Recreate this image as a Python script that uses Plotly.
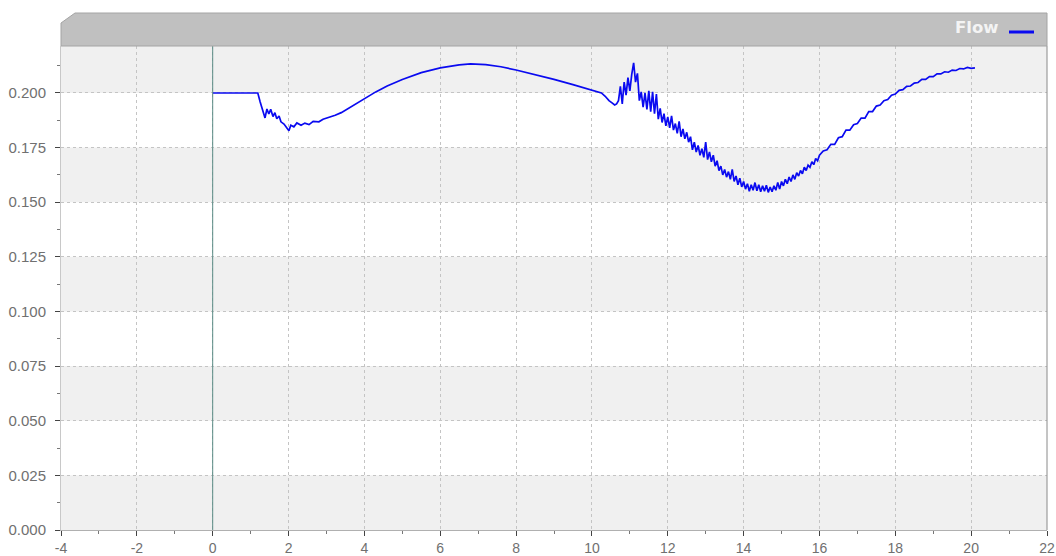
import plotly.graph_objects as go

# ---------------- data ----------------
time_a = [0.0, 1.19, 1.25, 1.32, 1.38, 1.43, 1.48, 1.53, 1.59, 1.64, 1.69, 1.75, 1.80, 1.88,
          1.96, 2.01, 2.06, 2.14, 2.22, 2.33, 2.43, 2.54, 2.65, 2.80, 2.91, 3.07, 3.23, 3.39]
flow_a = [0.2000, 0.2000, 0.1960, 0.1918, 0.1886, 0.1927, 0.1904, 0.1925, 0.1892, 0.1910, 0.1882,
          0.1895, 0.1868, 0.1858, 0.1836, 0.1827, 0.1852, 0.1845, 0.1863, 0.1852, 0.1862, 0.1855,
          0.1870, 0.1868, 0.1880, 0.1888, 0.1898, 0.1910]

time_b = [3.7, 4.0, 4.3, 4.6, 5.0, 5.5, 6.0, 6.5, 6.8, 7.2, 7.6, 8.0, 8.5, 9.0, 9.5, 10.0, 10.25,
          10.35, 10.45, 10.53]
flow_b = [0.1942, 0.1975, 0.2005, 0.2032, 0.2062, 0.2093, 0.2115, 0.2129, 0.2133, 0.2130, 0.2120,
          0.2105, 0.2085, 0.2062, 0.2038, 0.2013, 0.2000, 0.1985, 0.1965, 0.1955]

time_c = [10.60, 10.65, 10.70, 10.75, 10.80, 10.85, 10.90, 10.95, 11.00, 11.05, 11.10, 11.15,
          11.20, 11.25, 11.30, 11.35, 11.40, 11.45, 11.50, 11.55, 11.60, 11.65, 11.70, 11.75,
          11.80, 11.85, 11.90, 11.95, 12.00, 12.05, 12.10, 12.15, 12.20, 12.25, 12.30, 12.35,
          12.40, 12.45, 12.50, 12.55, 12.60, 12.65, 12.70, 12.75, 12.80, 12.85, 12.90, 12.95,
          13.00, 13.05, 13.10, 13.15, 13.20, 13.25, 13.30, 13.35, 13.40, 13.45, 13.50, 13.55,
          13.60, 13.65, 13.70, 13.75, 13.80, 13.85, 13.90, 13.95, 14.00, 14.05, 14.10, 14.15,
          14.20, 14.25, 14.30, 14.35, 14.40, 14.45, 14.50, 14.55, 14.60, 14.65, 14.70, 14.75,
          14.80, 14.85, 14.90, 14.95, 15.00, 15.05, 15.10, 15.15, 15.20, 15.25, 15.30, 15.35,
          15.40, 15.45, 15.50, 15.55, 15.60, 15.65, 15.70, 15.75, 15.80, 15.85, 15.90, 15.95,
          16.00]
flow_c = [0.1945, 0.1950, 0.1965, 0.2030, 0.1950, 0.2050, 0.1990, 0.2070, 0.2010, 0.2085,
          0.2138, 0.2050, 0.2090, 0.1965, 0.2005, 0.1935, 0.2000, 0.1925, 0.2010, 0.1915,
          0.2005, 0.1905, 0.1995, 0.1880, 0.1930, 0.1865, 0.1905, 0.1850, 0.1890, 0.1840,
          0.1895, 0.1830, 0.1860, 0.1815, 0.1870, 0.1800, 0.1835, 0.1790, 0.1820, 0.1775,
          0.1800, 0.1740, 0.1775, 0.1730, 0.1760, 0.1715, 0.1745, 0.1705, 0.1775, 0.1695,
          0.1730, 0.1685, 0.1715, 0.1665, 0.1690, 0.1645, 0.1665, 0.1625, 0.1650, 0.1615,
          0.1640, 0.1605, 0.1650, 0.1595, 0.1620, 0.1580, 0.1610, 0.1570, 0.1595, 0.1560,
          0.1585, 0.1550, 0.1580, 0.1555, 0.1590, 0.1552, 0.1580, 0.1548, 0.1575, 0.1550,
          0.1578, 0.1545, 0.1570, 0.1548, 0.1575, 0.1555, 0.1590, 0.1560, 0.1595, 0.1575,
          0.1605, 0.1585, 0.1615, 0.1595, 0.1625, 0.1605, 0.1635, 0.1620, 0.1645, 0.1630,
          0.1660, 0.1645, 0.1670, 0.1660, 0.1685, 0.1672, 0.1700, 0.1690, 0.1715]

time_d = [16.1, 16.2, 16.3, 16.4, 16.5, 16.6, 16.7, 16.8, 16.9, 17.0, 17.1, 17.2, 17.3, 17.4,
          17.5, 17.6, 17.7, 17.8, 17.9, 18.0, 18.1, 18.2, 18.3, 18.4, 18.5, 18.6, 18.7, 18.8,
          18.9, 19.0, 19.1, 19.2, 19.3, 19.4, 19.5, 19.6, 19.7, 19.8, 19.9, 20.0, 20.1]
flow_d = [0.1735, 0.1740, 0.1765, 0.1765, 0.1795, 0.1800, 0.1830, 0.1830, 0.1855, 0.1860,
          0.1885, 0.1885, 0.1915, 0.1915, 0.1940, 0.1945, 0.1965, 0.1970, 0.1990, 0.1995,
          0.2012, 0.2015, 0.2030, 0.2032, 0.2045, 0.2048, 0.2062, 0.2062, 0.2075, 0.2075,
          0.2088, 0.2087, 0.2097, 0.2095, 0.2105, 0.2103, 0.2112, 0.2110, 0.2117, 0.2113,
          0.2115]

x_ticks = [-4, -2, 0, 2, 4, 6, 8, 10, 12, 14, 16, 18, 20, 22]
y_ticks = [0.000, 0.025, 0.050, 0.075, 0.100, 0.125, 0.150, 0.175, 0.200]
series_name = "Flow"

time = time_a + time_b + time_c + time_d
flow = flow_a + flow_b + flow_c + flow_d

# ---------------- figure ----------------
W, H = 1056, 556
L, R, T, B = 61, 9, 46, 26
PW, PH = W - L - R, H - T - B

fig = go.Figure()
fig.add_trace(go.Scatter(x=time, y=flow, mode="lines", name=series_name,
                         line=dict(color="#0a0af0", width=1.7), showlegend=False))

Y_TOP = 0.2215
shapes = []
band_edges = [0.0, 0.025, 0.05, 0.075, 0.1, 0.125, 0.15, 0.175, 0.2, Y_TOP]
for i in range(len(band_edges) - 1):
    if i % 2 == 0:
        shapes.append(dict(type="rect", xref="paper", yref="y", x0=0, x1=1,
                           y0=band_edges[i], y1=band_edges[i + 1],
                           fillcolor="#f0f0f0", line=dict(width=0), layer="below"))
shapes.append(dict(type="line", xref="x", yref="paper", x0=0, x1=0, y0=0, y1=1,
                   line=dict(color="#5b8c85", width=1)))
shapes.append(dict(type="line", xref="paper", yref="paper", x0=1, x1=1, y0=0, y1=1,
                   line=dict(color="#8a8a8a", width=1)))


def py(pix):
    """pixel row -> paper y"""
    return (H - B - pix) / PH


def px(pix):
    return (pix - L) / PW


shapes.append(dict(type="path", xref="paper", yref="paper",
                   path=f"M 0,1 L 0,{py(23)} L {px(75)},{py(13)} L 1,{py(13)} L 1,1 Z",
                   fillcolor="#c0c0c0", line=dict(color="#a4a4a4", width=1)))
shapes.append(dict(type="line", xref="paper", yref="paper",
                   x0=px(1009), x1=px(1034), y0=py(32), y1=py(32),
                   line=dict(color="#0a0af0", width=3)))

fig.update_layout(
    width=W, height=H,
    margin=dict(l=L, r=R, t=T, b=B),
    paper_bgcolor="white", plot_bgcolor="white",
    shapes=shapes,
    font=dict(family="Liberation Sans, Arial, sans-serif", size=15, color="#707070"),
    annotations=[dict(text="<b>" + series_name + "</b>", xref="paper", yref="paper",
                      x=px(1001), y=py(27), xanchor="right", yanchor="middle",
                      showarrow=False,
                      font=dict(size=16.5, color="#f4f4f4",
                                family="DejaVu Sans, Verdana, sans-serif"))],
)
fig.update_xaxes(range=[-4, 22], tickvals=x_ticks, ticktext=[str(v) for v in x_ticks],
                 automargin=False,
                 showgrid=True, gridcolor="#c4c4c4", griddash="3px,3px", gridwidth=1,
                 zeroline=False, showline=True, linecolor="#b0b0b0", linewidth=1,
                 ticks="outside", ticklen=5, tickcolor="#444", ticklabelstandoff=0,
                 minor=dict(dtick=1, tick0=0, ticks="outside", ticklen=3, tickcolor="#777",
                            showgrid=False),
                 tickfont=dict(size=14, color="#707070"))
fig.update_yaxes(range=[0, Y_TOP], tickvals=y_ticks, ticktext=[f"{v:.3f}" for v in y_ticks],
                 automargin=False,
                 showgrid=True, gridcolor="#c4c4c4", griddash="3px,3px", gridwidth=1,
                 zeroline=False, showline=True, linecolor="#c8c8c8", linewidth=1,
                 ticks="outside", ticklen=5, tickcolor="#444", ticklabelstandoff=6,
                 minor=dict(dtick=0.0125, tick0=0, ticks="outside", ticklen=3, tickcolor="#777",
                            showgrid=False),
                 tickfont=dict(size=15, color="#707070"))

fig.write_html("out.html", config={"displayModeBar": False},
               post_script="document.body.style.margin='0px';document.body.style.overflow='hidden';")
